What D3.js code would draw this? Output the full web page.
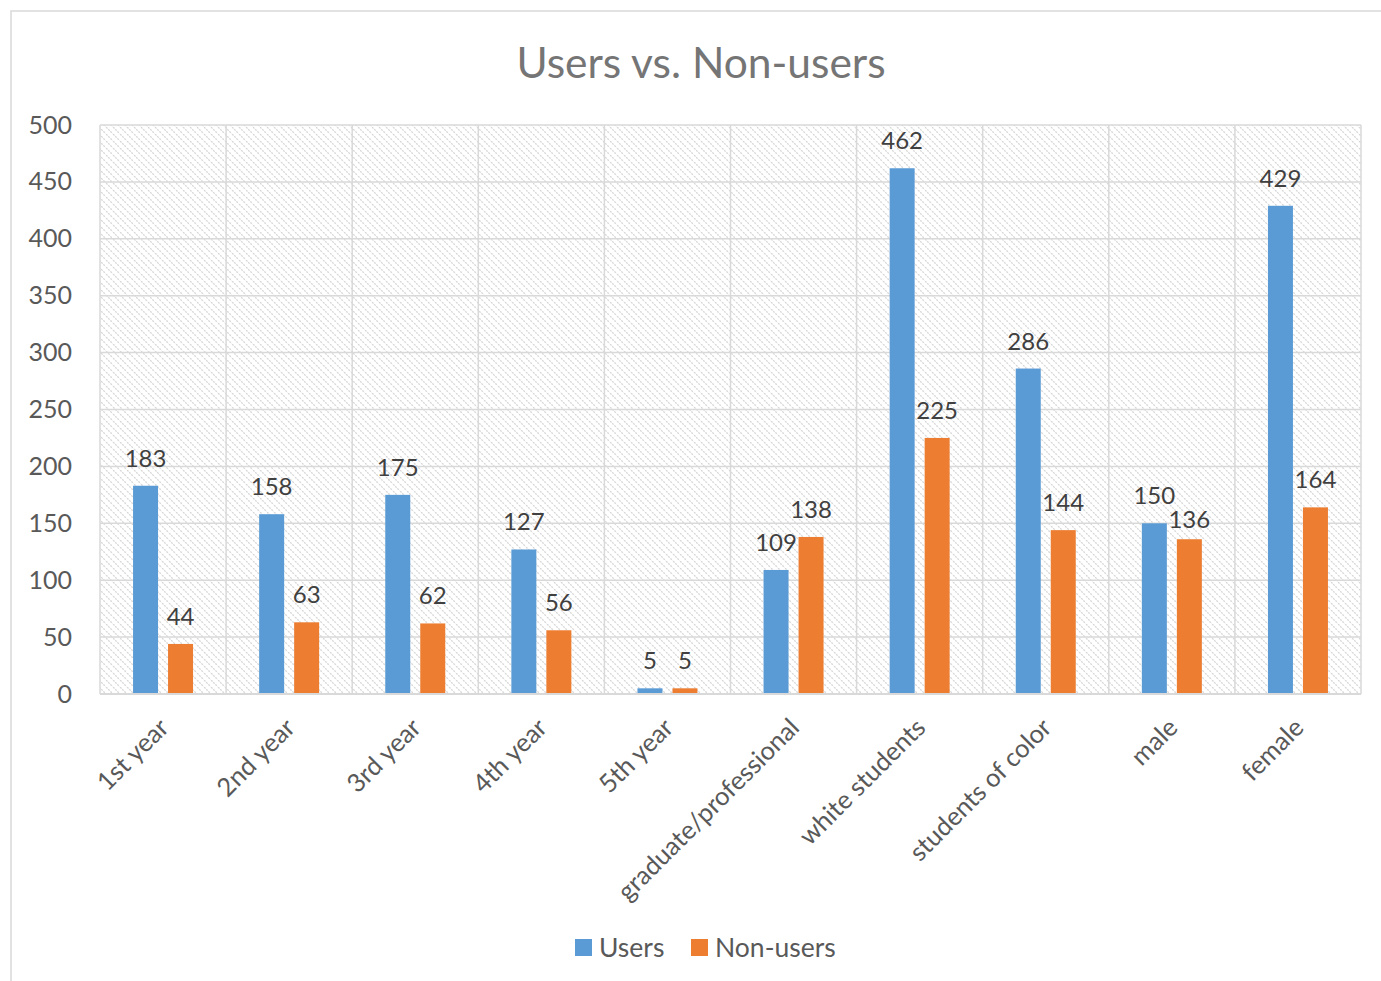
<!DOCTYPE html>
<html>
<head>
<meta charset="utf-8">
<script src="https://cdn.jsdelivr.net/npm/d3@7"></script>
<style>
  html, body { margin: 0; padding: 0; background: #fff; }
  svg { display: block; }
  text { font-family: Lato, "Open Sans", sans-serif; }
</style>
</head>
<body>
<svg id="chart" width="1381" height="981"></svg>
<script>
const categories = ["1st year", "2nd year", "3rd year", "4th year", "5th year",
  "graduate/professional", "white students", "students of color", "male", "female"];
const seriesNames = ["Users", "Non-users"];
const users = [183, 158, 175, 127, 5, 109, 462, 286, 150, 429];
const nonUsers = [44, 63, 62, 56, 5, 138, 225, 144, 136, 164];
const yTicks = [0, 50, 100, 150, 200, 250, 300, 350, 400, 450, 500];
const colors = ["#5B9BD5", "#ED7D31"];
const title = "Users vs. Non-users";

const svg = d3.select("#chart");
const plot = { left: 100, right: 1361, top: 125, bottom: 694 };

// outer frame
svg.append("rect").attr("x", 11).attr("y", 11).attr("width", 1420).attr("height", 1020)
  .attr("fill", "none").attr("stroke", "#d9d9d9").attr("stroke-width", 1.5);

// hatch pattern
const defs = svg.append("defs");
const pat = defs.append("pattern").attr("id", "hatch").attr("patternUnits", "userSpaceOnUse")
  .attr("width", 7).attr("height", 7);
pat.append("path").attr("d", "M-1,-1 L8,8 M-4,3 L4,11 M3,-4 L11,4")
  .attr("stroke", "#d6d6d6").attr("stroke-width", 1.3).attr("stroke-dasharray", "2,1");

const x = d3.scaleBand().domain(categories).range([plot.left, plot.right]).paddingInner(0).paddingOuter(0);
const bw = x.bandwidth();
const xs = d3.scaleBand().domain(seriesNames).range([bw / 2 - 30, bw / 2 + 30]).paddingInner(2 - 60 / 35).paddingOuter(0);
const y = d3.scaleLinear().domain([0, 500]).range([plot.bottom, plot.top]);

// plot background
svg.append("rect").attr("x", plot.left).attr("y", plot.top)
  .attr("width", plot.right - plot.left).attr("height", plot.bottom - plot.top)
  .attr("fill", "url(#hatch)");

// horizontal gridlines
svg.append("g").selectAll("line").data(yTicks).join("line")
  .attr("x1", plot.left).attr("x2", plot.right)
  .attr("y1", d => y(d)).attr("y2", d => y(d))
  .attr("stroke", "#d9d9d9").attr("stroke-width", 1.5);

// vertical gridlines at category boundaries
const bounds = categories.map(c => x(c)).concat([plot.right]);
svg.append("g").selectAll("line").data(bounds).join("line")
  .attr("x1", d => d).attr("x2", d => d)
  .attr("y1", plot.top).attr("y2", plot.bottom)
  .attr("stroke", "#d9d9d9").attr("stroke-width", 1.5);

// y axis labels
const yAxis = d3.axisLeft(y).tickValues(yTicks).tickSize(0).tickPadding(28);
const gy = svg.append("g").attr("transform", `translate(${plot.left},0)`).call(yAxis);
gy.select(".domain").remove();
gy.selectAll("text").attr("font-size", 25).attr("fill", "#595959")
  .attr("font-family", "Lato, 'Open Sans', sans-serif");

// bars
const seriesData = [users, nonUsers];
// label positions with simple overlap avoidance (push the second label down when labels collide)
const labelY = seriesData.map(vals => vals.map(v => y(v) - 19));
const barStep = xs.step();
labelY[1] = labelY[1].map((ly, i) => {
  const w0 = String(users[i]).length * 13, w1 = String(nonUsers[i]).length * 13;
  const hOverlap = (w0 + w1) / 2 > barStep;
  return (hOverlap && Math.abs(ly - labelY[0][i]) < 22) ? labelY[0][i] + 24 : ly;
});

seriesData.forEach((vals, si) => {
  const g = svg.append("g");
  g.selectAll("rect").data(vals).join("rect")
    .attr("x", (d, i) => x(categories[i]) + xs(seriesNames[si]))
    .attr("y", d => y(d))
    .attr("width", xs.bandwidth())
    .attr("height", d => y(0) - y(d))
    .attr("fill", colors[si]);
  g.selectAll("text").data(vals).join("text")
    .attr("x", (d, i) => x(categories[i]) + xs(seriesNames[si]) + xs.bandwidth() / 2)
    .attr("y", (d, i) => labelY[si][i])
    .attr("text-anchor", "middle")
    .attr("font-size", 24).attr("fill", "#404040")
    .text(d => d);
});

// x axis line
svg.append("line").attr("x1", plot.left).attr("x2", plot.right)
  .attr("y1", plot.bottom).attr("y2", plot.bottom)
  .attr("stroke", "#d9d9d9").attr("stroke-width", 2);

// x labels
const xAxis = d3.axisBottom(x).tickSize(0).tickPadding(0);
const gx = svg.append("g").attr("transform", `translate(0,${plot.bottom})`).call(xAxis);
gx.select(".domain").remove();
gx.selectAll("text")
  .attr("font-size", 25.5).attr("fill", "#595959")
  .attr("font-family", "Lato, 'Open Sans', sans-serif")
  .attr("text-anchor", "end")
  .attr("dy", "0.35em")
  .attr("transform", "translate(1,29) rotate(-45)");

// title
svg.append("text").attr("x", 701).attr("y", 78).attr("text-anchor", "middle")
  .attr("font-size", 42.5).attr("fill", "#757575").text(title);

// legend
const legend = svg.append("g");
const legX = [575, 691];
seriesNames.forEach((s, i) => {
  legend.append("rect").attr("x", legX[i]).attr("y", 939).attr("width", 17).attr("height", 17).attr("fill", colors[i]);
  legend.append("text").attr("x", legX[i] + 24).attr("y", 957).attr("font-size", 26.5).attr("fill", "#595959").text(s);
});
</script>
</body>
</html>
